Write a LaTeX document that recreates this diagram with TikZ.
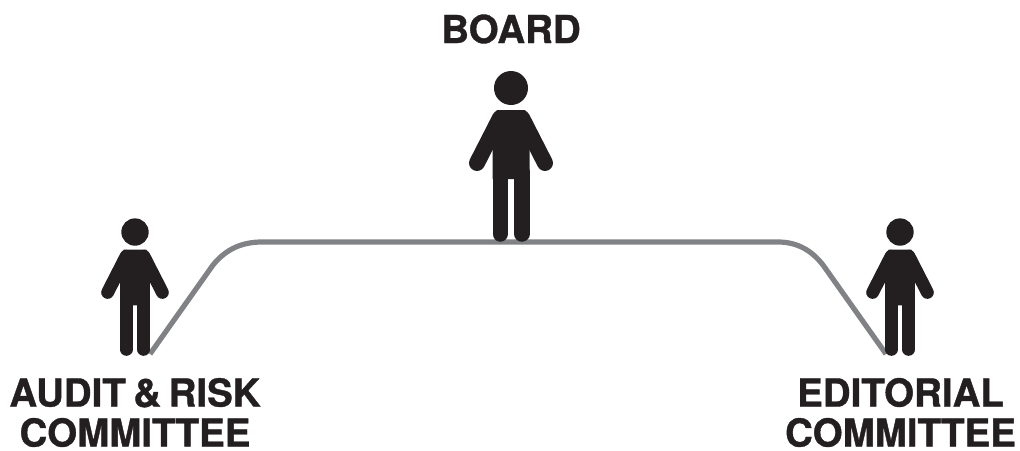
\documentclass[tikz,border=0pt]{standalone}
\usepackage{fontspec}
\setmainfont{TeX Gyre Heros}[BoldFeatures={FakeBold=1, WordSpace=0.7}]
\usetikzlibrary{positioning}
\definecolor{personblack}{HTML}{231F20}
\definecolor{linegrey}{HTML}{808285}
\tikzset{
	label text/.style={font=\bfseries\fontsize{38.5}{40}\selectfont, text=personblack, align=center, inner sep=0pt},
	link line/.style={draw=linegrey, line width=5.2pt},
	pics/person/.style={code={
		\begin{scope}[scale=#1, personblack]
			\fill (0,-154) circle (17);
			\fill (-14,-132) -- (14,-132) -- (18.5,-124) -- (18.5,-63) -- (-18.5,-63) -- (-18.5,-124) -- cycle;
			\draw[line width=#1*16pt, line cap=round] (-34,-79) -- (-11,-124);
			\draw[line width=#1*16pt, line cap=round] (34,-79) -- (11,-124);
			\foreach \s in {-1,1} {\draw[line width=#1*15.5pt, line cap=round] (\s*10.75,-8) -- (\s*10.75,-70);}
		\end{scope}
	}}
}
\begin{document}
\begin{tikzpicture}[x=1pt, y=-1pt]
	\useasboundingbox (0,0) rectangle (1020,450);
	\coordinate (auditfoot) at (150,354);
	\coordinate (editorialfoot) at (886,354);
	\coordinate (leftbend) at (213,265);
	\coordinate (lefttop) at (262,242);
	\coordinate (righttop) at (778,242);
	\coordinate (rightbend) at (823,265);
	\draw[link line] (auditfoot) -- (leftbend) .. controls (226,249) and (242,242) .. (lefttop) -- (righttop) .. controls (798,242) and (812,251) .. (rightbend) -- (editorialfoot);
	\pic (boardperson) at (511,242) {person=1};
	\pic (auditperson) at (135,356) {person=0.805};
	\pic (editorialperson) at (900,356) {person=0.805};
	\node[label text] (board) at (511,29) {BOARD};
	\node[label text] (audit) at (135,412.5) {AUDIT \& RISK\\COMMITTEE};
	\node[label text] (editorial) at (900.5,412.5) {EDITORIAL\\COMMITTEE};
\end{tikzpicture}
\end{document}
